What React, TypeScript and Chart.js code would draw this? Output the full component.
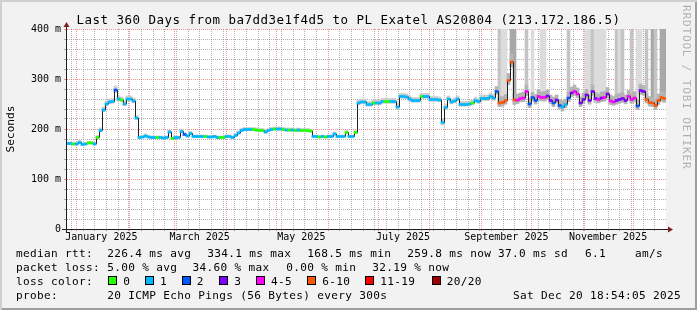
import React, { useEffect, useRef } from 'react';
import { Chart, registerables } from 'chart.js';

Chart.register(...registerables);

// ---------------- data ----------------
const titleText = 'Last 360 Days from ba7dd3e1f4d5 to PL Exatel AS20804 (213.172.186.5)';
const startTime = new Date(2024, 11, 25, 18, 54, 5).getTime();
const rangeDays = 360;
const binDays = 1.8;

// median RTT per 1.8-day bin (ms)
const medianMs = [
  171, 171, 170, 170, 173, 169, 170, 172, 172, 170,
  183, 197, 238, 250, 254, 255, 278, 260, 258, 250,
  260, 260, 256, 222, 183, 184, 186, 184, 183, 183,
  183, 183, 182, 183, 194, 181, 183, 183, 195, 189,
  186, 191, 185, 185, 185, 185, 185, 184, 184, 185,
  183, 183, 183, 185, 185, 183, 187, 192, 197, 199,
  199, 199, 199, 198, 197, 197, 194, 197, 199, 200,
  200, 200, 199, 198, 198, 198, 197, 198, 197, 197,
  197, 196, 185, 185, 184, 185, 184, 185, 185, 190,
  185, 185, 185, 193, 185, 185, 193, 252, 254, 254,
  249, 249, 252, 252, 252, 255, 255, 255, 255, 255,
  244, 265, 265, 264, 260, 257, 257, 257, 265, 265,
  265, 259, 259, 259, 258, 213, 243, 260, 254, 256,
  260, 249, 249, 249, 250, 252, 257, 255, 261, 261,
  261, 265, 262, 275, 252, 253, 257, 297, 334, 258,
  258, 261, 262, 275, 250, 263, 257, 265, 263, 263,
  266, 257, 252, 258, 247, 244, 249, 262, 272, 275,
  270, 252, 259, 268, 257, 275, 261, 259, 262, 263,
  270, 256, 254, 257, 259, 261, 257, 265, 259, 262,
  246, 277, 275, 259, 253, 252, 247, 257, 263, 261,
];

// loss bucket per bin (index into lossLabels)
const lossBucket = [
  1, 1, 0, 1, 1, 1, 1, 0, 0, 1,
  0, 1, 1, 1, 1, 1, 2, 1, 0, 1,
  1, 1, 1, 1, 1, 1, 1, 1, 1, 1,
  0, 1, 1, 1, 1, 0, 1, 1, 1, 2,
  1, 1, 1, 1, 1, 1, 0, 1, 1, 1,
  1, 0, 0, 1, 1, 1, 1, 1, 1, 1,
  1, 1, 0, 0, 0, 0, 1, 1, 1, 0,
  1, 1, 0, 1, 0, 1, 0, 1, 0, 0,
  0, 0, 1, 1, 0, 1, 0, 1, 1, 1,
  1, 1, 1, 0, 1, 1, 0, 1, 1, 1,
  1, 1, 0, 1, 1, 1, 0, 0, 1, 1,
  1, 1, 1, 1, 1, 1, 1, 1, 0, 1,
  1, 1, 1, 1, 1, 1, 1, 1, 1, 1,
  1, 1, 1, 1, 1, 0, 1, 1, 1, 1,
  1, 1, 1, 2, 5, 5, 5, 5, 5, 5,
  4, 4, 4, 4, 2, 2, 2, 4, 4, 4,
  3, 3, 2, 3, 2, 1, 1, 2, 3, 4,
  4, 3, 3, 3, 3, 3, 3, 4, 3, 4,
  3, 4, 4, 3, 3, 3, 3, 4, 4, 4,
  2, 3, 3, 5, 5, 5, 5, 5, 5, 5,
];

// smoke spread around the median per bin (ms)
const smokeSpreadMs = [
  3, 3, 3, 3, 4, 3, 3, 3, 3, 3,
  4, 5, 6, 6, 6, 6, 8, 6, 6, 6,
  6, 6, 6, 5, 3, 3, 4, 3, 3, 3,
  3, 3, 3, 3, 4, 3, 3, 3, 4, 4,
  3, 4, 3, 3, 3, 3, 3, 3, 3, 3,
  3, 3, 3, 3, 3, 3, 4, 4, 4, 4,
  4, 4, 4, 4, 4, 4, 4, 4, 4, 4,
  4, 4, 4, 4, 4, 4, 4, 4, 4, 4,
  4, 4, 3, 3, 3, 3, 3, 3, 3, 4,
  3, 3, 3, 4, 3, 3, 4, 6, 6, 6,
  6, 6, 6, 6, 6, 6, 6, 6, 6, 6,
  7, 6, 6, 6, 6, 6, 6, 6, 6, 6,
  6, 6, 6, 6, 6, 8, 7, 6, 6, 6,
  6, 6, 6, 6, 6, 6, 6, 6, 7, 7,
  7, 7, 8, 10, 12, 12, 12, 14, 16, 14,
  12, 11, 12, 13, 12, 10, 12, 13, 11, 12,
  12, 11, 12, 10, 12, 13, 11, 12, 12, 13,
  12, 12, 13, 11, 12, 13, 12, 11, 12, 12,
  13, 12, 11, 12, 12, 12, 11, 12, 12, 13,
  12, 13, 12, 11, 12, 12, 12, 13, 12, 12,
];

// smoke reaching above the chart top (0 none, 1 light, 2 medium, 3 dense)
const smokeTallLevel = [
  0, 0, 0, 0, 0, 0, 0, 0, 0, 0,
  0, 0, 0, 0, 0, 0, 0, 0, 0, 0,
  0, 0, 0, 0, 0, 0, 0, 0, 0, 0,
  0, 0, 0, 0, 0, 0, 0, 0, 0, 0,
  0, 0, 0, 0, 0, 0, 0, 0, 0, 0,
  0, 0, 0, 0, 0, 0, 0, 0, 0, 0,
  0, 0, 0, 0, 0, 0, 0, 0, 0, 0,
  0, 0, 0, 0, 0, 0, 0, 0, 0, 0,
  0, 0, 0, 0, 0, 0, 0, 0, 0, 0,
  0, 0, 0, 0, 0, 0, 0, 0, 0, 0,
  0, 0, 0, 0, 0, 0, 0, 0, 0, 0,
  0, 0, 0, 0, 0, 0, 0, 0, 0, 0,
  0, 0, 0, 0, 0, 0, 0, 0, 0, 0,
  0, 0, 0, 0, 0, 0, 0, 0, 0, 0,
  0, 0, 0, 0, 2, 1, 1, 0, 3, 3,
  0, 0, 0, 2, 0, 1, 0, 0, 1, 1,
  0, 0, 0, 0, 0, 0, 0, 2, 0, 0,
  0, 0, 0, 1, 1, 2, 1, 1, 1, 1,
  0, 0, 0, 2, 1, 2, 0, 0, 2, 0,
  1, 1, 0, 2, 0, 3, 2, 0, 3, 3,
];

const lossLabels = ['0', '1', '2', '3', '4-5', '6-10', '11-19', '20/20'];
const lossColors = ['#26ff00', '#00b8ff', '#0059ff', '#7e00ff', '#ff00ff', '#ff5500', '#ff0000', '#a10000'];

const xLabelText = ['January 2025', 'March 2025', 'May 2025', 'July 2025', 'September 2025', 'November 2025'];
const xLabelMonth = [0, 2, 4, 6, 8, 10];
const gridMonths = [0, 1, 2, 3, 4, 5, 6, 7, 8, 9, 10, 11];
const yTickValues = [0, 100, 200, 300, 400];
const yTickLabels = ['0', '100 m', '200 m', '300 m', '400 m'];
const yAxisTitle = 'Seconds';

const rttLegend = ['median rtt:', '226.4 ms avg', '334.1 ms max', '168.5 ms min', '259.8 ms now', '37.0 ms sd', '6.1', 'am/s'];
const lossLegend = ['packet loss:', '5.00 % avg', '34.60 % max', '0.00 % min', '32.19 % now'];
const lossColorTitle = 'loss color:';
const probeLegend = ['probe:', '20 ICMP Echo Pings (56 Bytes) every 300s', 'Sat Dec 20 18:54:05 2025'];
const watermark = 'RRDTOOL / TOBI OETIKER';

// ---------------- layout / style ----------------
const W = 697;
const H = 310;
const PLOT = { left: 66, right: 666, top: 29, bottom: 229 };
const MONO = "'DejaVu Sans Mono', monospace";
const GRID = 'rgba(143,143,143,0.7)';
const MGRID = 'rgba(222,79,79,0.6)';
const AXIS = '#1f1f1f';
const ARROW = '#801f1f';
const tallShades = ['rgba(0,0,0,0)', '#dcdcdc', '#c4c4c4', '#a8a8a8'];

const rttX = [16, 107.3, 207.3, 307.3, 407.3, 498, 585, 635];
const lossX = [16, 107.3, 192.5, 286.2, 372.3];
const boxX = [108.3, 145, 181.7, 219.3, 256, 307.3, 365.3, 431.7];
const probeX = [16, 107.3, 513];
const rowTop = [247, 261, 275, 289];

const legendFont: React.CSSProperties = {
  position: 'absolute',
  fontFamily: MONO,
  fontSize: '11.1px',
  letterSpacing: '0.317px',
  lineHeight: '14px',
  whiteSpace: 'pre',
  color: '#000',
};

export default function App() {
  const ref = useRef<HTMLCanvasElement>(null);

  useEffect(() => {
    const canvas = ref.current;
    if (!canvas) return;
    const dayOf = (y: number, m: number, d: number) => (new Date(y, m, d).getTime() - startTime) / 86400000;

    // x grid / label ticks
    const tickMap = new Map<string, any>();
    const addTick = (v: number, key: string, val: any) => {
      const k = v.toFixed(4);
      const t = tickMap.get(k) || { value: v };
      t[key] = val;
      tickMap.set(k, t);
    };
    gridMonths.forEach((m) => addTick(dayOf(2025, m, 1), 'isMonth', true));
    for (let k = 0; ; k++) {
      const v = dayOf(2024, 11, 29 + 7 * k);
      if (v > rangeDays) break;
      if (v >= 0) addTick(v, 'isWeek', true);
    }
    xLabelMonth.forEach((m, i) => addTick(dayOf(2025, m, 1) + 15, 'lab', xLabelText[i]));
    const xTicks = Array.from(tickMap.values()).sort((a, b) => a.value - b.value);

    const center = (i: number) => i * binDays + binDays / 2;
    const bandData = medianMs.map((v, i) => ({ x: center(i), y: [v - smokeSpreadMs[i] * 0.6, v + smokeSpreadMs[i]] }));
    const bandColors = smokeSpreadMs.map((s) => (s >= 10 ? '#b4b4b4' : '#cdcdcd'));
    const tallIdx = smokeTallLevel.map((l, i) => (l > 0 ? i : -1)).filter((i) => i >= 0);
    const tallData = tallIdx.map((i) => ({ x: center(i), y: [medianMs[i] - smokeSpreadMs[i] * 0.6, 400] }));
    const tallColors = tallIdx.map((i) => tallShades[smokeTallLevel[i]]);
    const lossData = medianMs.map((v, i) => ({ x: center(i), y: [v - 2, v + 2] }));
    const lossBarColors = lossBucket.map((b) => lossColors[b]);
    const halfPx = binDays / 6; // half a pixel in days (3px per bin)
    const lineData = medianMs.map((v, i) => ({ x: i * binDays + halfPx, y: v }));
    lineData.push({ x: rangeDays, y: medianMs[medianMs.length - 1] });

    const barCommon = {
      type: 'bar' as const,
      xAxisID: 'x',
      yAxisID: 'y',
      grouped: false,
      barPercentage: 1,
      categoryPercentage: 1,
      borderWidth: 0,
    };

    const plotBg = {
      id: 'plotBg',
      beforeDraw(chart: any) {
        const { ctx, chartArea: a } = chart;
        ctx.save();
        ctx.fillStyle = '#ffffff';
        ctx.fillRect(a.left, a.top, a.right - a.left, a.bottom - a.top);
        ctx.restore();
      },
    };
    const axisArrows = {
      id: 'axisArrows',
      afterDraw(chart: any) {
        const { ctx, chartArea: a } = chart;
        const bx = Math.round(a.left) + 0.5;
        const by = Math.round(a.bottom) + 0.5;
        ctx.save();
        ctx.strokeStyle = AXIS;
        ctx.lineWidth = 1;
        ctx.beginPath();
        ctx.moveTo(a.left - 4, by);
        ctx.lineTo(a.right + 4, by);
        ctx.moveTo(bx, a.bottom + 4);
        ctx.lineTo(bx, a.top - 4);
        ctx.stroke();
        ctx.fillStyle = ARROW;
        ctx.beginPath();
        ctx.moveTo(a.right + 2, by - 3);
        ctx.lineTo(a.right + 2, by + 3);
        ctx.lineTo(a.right + 7, by);
        ctx.closePath();
        ctx.fill();
        ctx.beginPath();
        ctx.moveTo(bx - 3, a.top - 2);
        ctx.lineTo(bx + 3, a.top - 2);
        ctx.lineTo(bx, a.top - 7);
        ctx.closePath();
        ctx.fill();
        ctx.restore();
      },
    };

    const chart = new Chart(canvas, {
      type: 'line',
      data: {
        datasets: [
          { ...barCommon, label: 'smoke high', data: tallData as any, backgroundColor: tallColors, order: 4 },
          { ...barCommon, label: 'smoke', data: bandData as any, backgroundColor: bandColors, order: 3 },
          {
            type: 'line',
            label: 'median',
            data: lineData,
            xAxisID: 'x',
            yAxisID: 'y',
            borderColor: '#202020',
            borderWidth: 1,
            pointRadius: 0,
            stepped: 'before',
            fill: false,
            tension: 0,
            order: 2,
          },
          { ...barCommon, label: 'loss', data: lossData as any, backgroundColor: lossBarColors, order: 1 },
        ] as any,
      },
      options: {
        animation: false,
        responsive: false,
        devicePixelRatio: 1,
        events: [],
        layout: { padding: { left: 0, top: PLOT.top, right: W - PLOT.right, bottom: 0 } },
        plugins: { legend: { display: false }, tooltip: { enabled: false }, title: { display: false } },
        scales: {
          x: { type: 'linear', min: 0, max: rangeDays, display: false, offset: false },
          xg: {
            type: 'linear',
            position: 'bottom',
            min: 0,
            max: rangeDays,
            offset: false,
            afterBuildTicks: (s: any) => {
              s.ticks = xTicks.map((t) => ({ ...t }));
            },
            afterFit: (s: any) => {
              s.height = H - PLOT.bottom;
            },
            grid: {
              color: (c: any) => (c.tick && c.tick.isMonth ? MGRID : c.tick && c.tick.isWeek ? GRID : 'rgba(0,0,0,0)'),
              lineWidth: 1,
              drawTicks: true,
              tickLength: 2,
              offset: false,
            },
            border: { display: true, color: AXIS, width: 1, dash: [1, 1] },
            ticks: {
              autoSkip: false,
              maxRotation: 0,
              minRotation: 0,
              padding: 0,
              color: '#000',
              font: { family: MONO, size: 10 },
              callback: (_v: any, i: number, ticks: any[]) => (ticks[i] && ticks[i].lab) || '',
            },
          },
          y: {
            type: 'linear',
            position: 'left',
            min: 0,
            max: 400,
            offset: false,
            afterFit: (s: any) => {
              s.width = PLOT.left;
            },
            grid: {
              color: (c: any) => (c.tick && c.tick.value % 100 === 0 ? MGRID : GRID),
              lineWidth: 1,
              drawTicks: true,
              tickLength: 2,
            },
            border: { display: true, color: AXIS, width: 1, dash: [1, 1] },
            ticks: {
              stepSize: 20,
              autoSkip: false,
              padding: 3,
              color: '#000',
              font: { family: MONO, size: 10 },
              callback: (v: any) => {
                const k = yTickValues.indexOf(Number(v));
                return k >= 0 ? yTickLabels[k] : '';
              },
            },
            title: {
              display: true,
              text: yAxisTitle,
              color: '#000',
              font: { family: MONO, size: 11.1 },
              padding: { top: 4, bottom: 0 },
            },
          },
        },
      } as any,
      plugins: [plotBg, axisArrows],
    });
    return () => chart.destroy();
  }, []);

  return (
    <div
      style={{
        position: 'absolute',
        left: 0,
        top: 0,
        width: W,
        height: H,
        background: '#f2f2f2',
        overflow: 'hidden',
      }}
    >
      <canvas ref={ref} width={W} height={H} style={{ position: 'absolute', left: 0, top: 0, width: W, height: H }} />
      <div
        style={{
          position: 'absolute',
          left: 0,
          top: 12,
          width: W,
          textAlign: 'center',
          fontFamily: MONO,
          fontSize: '12.5px',
          letterSpacing: '0.474px',
          lineHeight: '15px',
          whiteSpace: 'pre',
          color: '#000',
        }}
      >
        {titleText}
      </div>

      {rttLegend.map((t, i) => (
        <span key={'r' + i} style={{ ...legendFont, left: rttX[i], top: rowTop[0] }}>{t}</span>
      ))}
      {lossLegend.map((t, i) => (
        <span key={'l' + i} style={{ ...legendFont, left: lossX[i], top: rowTop[1] }}>{t}</span>
      ))}
      <span style={{ ...legendFont, left: 16, top: rowTop[2] }}>{lossColorTitle}</span>
      {lossLabels.map((t, i) => (
        <React.Fragment key={'c' + i}>
          <div
            style={{
              position: 'absolute',
              left: Math.round(boxX[i]),
              top: 276,
              width: 9,
              height: 9,
              boxSizing: 'border-box',
              border: '1px solid #000',
              background: lossColors[i],
            }}
          />
          <span style={{ ...legendFont, left: boxX[i] + 15, top: rowTop[2] }}>{t}</span>
        </React.Fragment>
      ))}
      {probeLegend.map((t, i) => (
        <span key={'p' + i} style={{ ...legendFont, left: probeX[i], top: rowTop[3] }}>{t}</span>
      ))}

      <div
        style={{
          position: 'absolute',
          left: 681,
          top: 5,
          writingMode: 'vertical-rl',
          fontFamily: MONO,
          fontSize: '11.1px',
          lineHeight: '11px',
          letterSpacing: '0.8px',
          whiteSpace: 'pre',
          color: 'rgba(0,0,0,0.28)',
        }}
      >
        {watermark}
      </div>
      <div
        style={{
          position: 'absolute',
          left: 0,
          top: 0,
          width: W,
          height: H,
          boxSizing: 'border-box',
          boxShadow: 'inset 2px 2px 0 #cfcfcf, inset -2px -2px 0 #9e9e9e',
          pointerEvents: 'none',
        }}
      />
    </div>
  );
}
